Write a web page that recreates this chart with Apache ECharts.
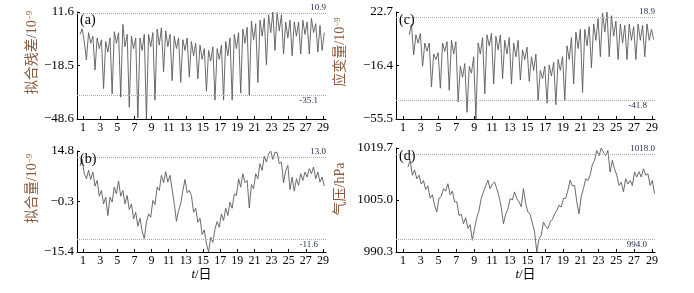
<!DOCTYPE html>
<html><head><meta charset="utf-8">
<script src="https://cdn.jsdelivr.net/npm/echarts@6/dist/echarts.min.js"></script>
<style>html,body{margin:0;padding:0;background:#fff}#c{width:694px;height:293px}</style>
</head><body><div id="c"></div>
<script>
// x tick labels (day of month)
const dayTicks = [1,3,5,7,9,11,13,15,17,19,21,23,25,27,29];

// (a) 拟合残差 /1e-9, sampled every 0.25 day from day 0.65
const residualStart = 0.65;
const residual = [
 -1, 2.1, -5, -15.4,
 0, -6, -2, -21,
 -3, -9, -4, -31.5,
 -5, -11, -3, -34.4,
 0.5, -6, 0, -36.3,
 4.6, -8, -1, -42,
 -2, -9, -3, -48,
 -3, -10, -1, -48.6,
 -1, -8, 0, -38,
 2, -7, 2.7, -22,
 1, -8, -1, -27,
 -2, -9, -3, -28,
 -4, -10, -3, -25,
 -5, -13, -6, -26,
 -7, -15, -9, -33,
 -10, -16, -8, -38,
 -9, -15, -7, -38,
 -5, -13, -3, -38,
 -1, -9, 0, -34,
 2, -6, 3, -35.3,
 6.5, -4, 5, -28,
 7, -2, 8, -18,
 10, 0, 11.6, -10,
 11.4, 1, 10, -12,
 6, -3, 7, -13,
 6, -2, 6, -12,
 7, -1, 6, -12,
 8, 0, 5, -11,
 4, -10, 0
];
const residualTicks = [-48.6, -18.5, 11.6];
const residualRefs = [10.9, -35.1];

// (b) 拟合量 /1e-9, every 0.25 day from day 0.65
const fittedStart = 0.65;
const fitted = [
 10.3, 12.3, 8, 6.5,
 9, 6.3, 8.5, 4.3,
 6, 1.3, 3, -1,
 1, -4.5, 1, -0.5,
 4, 2, 5.8, 1.3,
 3, -1, 1.5, -2.7,
 -1, -5.5, -3.5, -7.7,
 -5.3, -9.2, -11.4, -6.5,
 -4, -5, 0, -1.2,
 4, 3, 7.5, 5.3,
 8.6, 5.5, 7.5, 3.3,
 -1, -6.2, -3, -1,
 3, 6.3, 2.3, 3,
 1.5, -3.5, -2.3, -6.5,
 -5.3, -10.2, -8.8, -13,
 -15.4, -11, -12.5, -8.5,
 -6.3, -8, -4, -6,
 -2.3, -4.5, -0.5, -2.3,
 2, 1.5, 6.5, 4,
 8, 5.3, 6, -2.2,
 4.8, 3.5, 8, 6.5,
 11, 9, 13.3, 11.5,
 14, 14.8, 12.3, 14.5,
 14.3, 11, 11.5, 5.3,
 9, 10.5, 3.3, 7,
 2.8, 6.5, 4.5, 8,
 6, 8.5, 7, 9.5,
 8, 10, 6.5, 8.5,
 5.5, 7, 4.3
];
const fittedTicks = [-15.4, -0.3, 14.8];
const fittedRefs = [13.0, -11.6];

// (c) 应变量 /1e-9, every 0.25 day from day 1.7
const strainStart = 1.7;
const strain = [
 6, 13.6, -8.6,
 6, 0, 7, -17,
 0, -6, 0, -32,
 -8, -12, -7, -33,
 0, -6, 1, -34.5,
 2, -8, 1, -43,
 -17, -25, -15, -50.6,
 -17, -22, -10, -55.5,
 0, -8, 4, -37,
 6, -2, 7, -30,
 5, -5, 6, -26,
 2, -8, 4, -30,
 0, -10, 2, -27,
 -5, -12, -3, -28,
 -10, -20, -8, -42,
 -20, -26, -17, -44,
 -16, -24, -14, -45,
 -12, -20, -10, -42,
 -2, -12, 4, -30,
 8, -4, 10, -36,
 10, -2, 12, -18,
 14, 2, 18, -10,
 22, 8, 22.7, -10,
 20, 5, 16, -12,
 14, 0, 13, -12,
 14, 2, 12, -12,
 14, 2, 13, -10,
 14, 2, 10, 2.5
];
const strainTicks = [-55.5, -16.4, 22.7];
const strainRefs = [18.9, -41.8];

// (d) 气压 hPa, every 0.25 day from day 1.55
const pressureStart = 1.55;
const pressure = [
 1014.3, 1016.2, 1012, 1013.5, 1011, 1012, 1009.5, 1010.5,
 1008, 1009, 1005.5, 1006.5, 1003.5, 1001.6, 1005.5, 1006,
 1008.2, 1007.5, 1009.6, 1006.5, 1007.5, 1004.5, 1004.5, 1000.6,
 1001, 998.3, 1000, 997, 998, 993.6, 997, 1000,
 1002, 1005.5, 1007.3, 1009, 1010.6, 1008.2, 1009.5, 1010.1,
 1008.2, 1006, 1003, 998.3, 1001, 1002.5, 1005.4, 1005,
 1007.3, 1005.4, 1004.5, 1003.1, 1008.2, 1004, 1001.6, 1001,
 998.5, 996, 990.3, 994, 995, 998.8, 997.5, 996.9,
 998.8, 999.5, 1001.1, 1002, 1003.5, 1003, 1005.4, 1005.5,
 1007.7, 1010.6, 1009, 1009.1, 1004.5, 1001.1, 1006, 1008.2,
 1011, 1010.5, 1012, 1015, 1016.2, 1019, 1017.5, 1019.7,
 1018.5, 1017.5, 1019, 1012.9, 1016.2, 1013.8, 1012, 1009.1,
 1010, 1007.3, 1011, 1009.5, 1010.5, 1009.1, 1012.9, 1011.5,
 1013, 1011.5, 1013.8, 1012, 1012.5, 1009.1, 1010.5, 1006.8
];
const pressureTicks = [990.3, 1005.0, 1019.7];
const pressureRefs = [1018.0, 994.0];

const STEP = 0.25;
const SERIF = "'Liberation Serif','Times New Roman','Noto Sans CJK SC',serif";
const fmt = v => v.toFixed(1).replace('-', '\u2212');
const refFmt = v => v.toFixed(1);
const toPairs = (start, vals) => vals.map((v, i) => [start + i * STEP, v]);

const panels = [
  {letter:'(a)', name:'拟合残差/10{sup|−9}', start:residualStart, vals:residual, ticks:residualTicks, refs:residualRefs, namePad:26,
   grid:{left:77, top:12, width:249, height:107}, xmin:0.3, xmax:29.35, xname:'', nameGap:36},
  {letter:'(b)', name:'拟合量/10{sup|−9}', start:fittedStart, vals:fitted, ticks:fittedTicks, refs:fittedRefs, namePad:26,
   grid:{left:77, top:151, width:249, height:101}, xmin:0.3, xmax:29.35, xname:'{i|t}/日', nameGap:36},
  {letter:'(c)', name:'应变量/10{sup|−9}', start:strainStart, vals:strain, ticks:strainTicks, refs:strainRefs, namePad:27,
   grid:{left:396, top:12, width:259, height:107}, xmin:0.21, xmax:29.35, xname:'', nameGap:48},
  {letter:'(d)', name:'气压/hPa', start:pressureStart, vals:pressure, ticks:pressureTicks, refs:pressureRefs, namePad:22,
   grid:{left:396, top:148, width:259, height:104}, xmin:0.21, xmax:29.35, xname:'{i|t}/日', nameGap:48}
];

const option = {
  animation:false,
  backgroundColor:'#fff',
  title: panels.map(p => ({text:p.letter, left:p.grid.left + 3, top:p.grid.top + 1,
     textStyle:{fontFamily:SERIF, fontSize:14, fontWeight:'normal', color:'#000'}, padding:0})),
  grid: panels.map(p => p.grid),
  xAxis: panels.map((p, i) => ({
    gridIndex:i, type:'value', min:p.xmin, max:p.xmax,
    axisLine:{show:true, onZero:false, lineStyle:{color:'#000', width:1}},
    axisTick:{show:true, inside:true, length:3, customValues:dayTicks, lineStyle:{color:'#000'}},
    axisLabel:{customValues:dayTicks, fontFamily:SERIF, fontSize:12, color:'#000', margin:3},
    splitLine:{show:false},
    name:p.xname, nameLocation:'middle', nameGap:15,
    nameTextStyle:{fontFamily:SERIF, fontSize:13, color:'#000',
      rich:{i:{fontFamily:SERIF, fontStyle:'italic', fontSize:13, color:'#000'}}}
  })),
  yAxis: panels.map((p, i) => ({
    gridIndex:i, type:'value', min:p.ticks[0], max:p.ticks[2],
    axisLine:{show:true, onZero:false, lineStyle:{color:'#000', width:1}},
    axisTick:{show:true, inside:true, length:3, customValues:p.ticks, lineStyle:{color:'#000'}},
    axisLabel:{customValues:p.ticks, formatter:v => fmt(v), fontFamily:SERIF, fontSize:13, color:'#000', margin:3},
    splitLine:{show:false},
    name:p.name, nameLocation:'middle', nameRotate:90, nameGap:p.nameGap,
    nameTextStyle:{fontFamily:SERIF, fontSize:14, color:'#8b5a3c', lineHeight:15, padding:[0,0,0,p.namePad],
      rich:{sup:{fontFamily:SERIF, fontSize:9, color:'#8b5a3c', verticalAlign:'top', lineHeight:15}}}
  })),
  series: panels.map((p, i) => ({
    type:'line', xAxisIndex:i, yAxisIndex:i,
    data:toPairs(p.start, p.vals),
    showSymbol:false, symbol:'none',
    lineStyle:{color:'#5a5a5a', width:0.9},
    markLine:{
      silent:true, symbol:'none', animation:false,
      lineStyle:{color:'#aaa', type:'dotted', width:1},
      data:[
        {yAxis:p.refs[0], label:{position:'insideEndTop', distance:[0,1], formatter:refFmt(p.refs[0]), fontFamily:SERIF, fontSize:9, color:'#1c2850'}},
        {yAxis:p.refs[1], label:{position:'insideEndBottom', distance:[8,1], formatter:refFmt(p.refs[1]), fontFamily:SERIF, fontSize:9, color:'#1c2850'}}
      ]
    }
  }))
};

const chart = echarts.init(document.getElementById('c'), null, {renderer:'canvas'});
chart.setOption(option);
</script>
</body></html>
